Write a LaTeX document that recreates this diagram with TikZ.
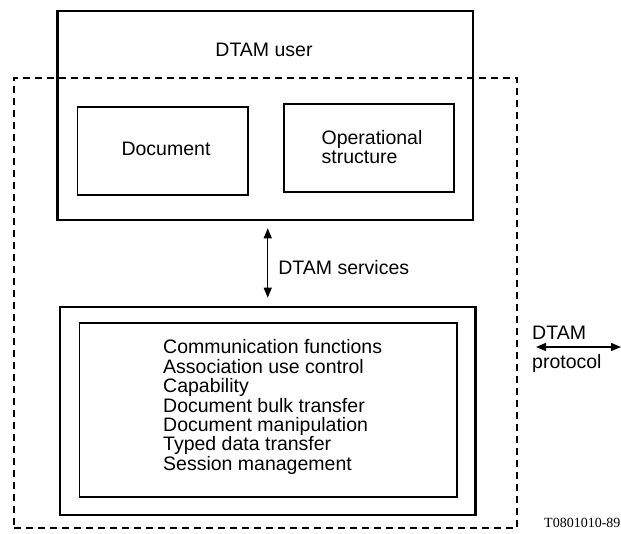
\documentclass[tikz,border=0pt]{standalone}
\usepackage{fontspec}
\setmainfont{Liberation Sans}
\newfontfamily\serifsmall{Liberation Serif}
\usetikzlibrary{arrows.meta,calc}
\begin{document}
\begin{tikzpicture}[x=1pt,y=-1pt,
  thickbox/.style={draw, line width=2.6pt, inner sep=0pt},
  thinbox/.style={draw, line width=1.3pt, inner sep=0pt},
  dashbox/.style={draw, line width=1.3pt, dash pattern=on 7pt off 5pt, inner sep=0pt},
  lbl/.style={font=\fontsize{19.5}{19.4}\selectfont, inner sep=0pt},
  arr/.style={line width=1.3pt, {Triangle[length=10pt,width=8pt]}-{Triangle[length=10pt,width=8pt]}}
]
\useasboundingbox (0,0) rectangle (621,533);
% dashed DTAM boundary
\node[dashbox, minimum width=503pt, minimum height=450pt] (dtam) at (265.5,303) {};
% DTAM user
\node[thickbox, minimum width=415.5pt, minimum height=209pt] (user) at (265.25,115.5) {};
\node[lbl] (usert) at (264,50) {DTAM user};
\node[thinbox, minimum width=170.5pt, minimum height=88pt] (doc) at (162.75,151) {};
\node[lbl] (doct) at (166,149) {Document};
\node[thinbox, minimum width=170pt, minimum height=88pt] (ops) at (369,148) {};
\node[lbl, align=left] (opst) at (372,147) {Operational\\structure};
% lower entity
\node[thickbox, minimum width=415.5pt, minimum height=208pt] (lower) at (267.75,411) {};
\node[thinbox, minimum width=377.5pt, minimum height=174pt] (inner) at (268.25,410) {};
\node[lbl, align=left, anchor=west] (funcs) at (163,407) {Communication functions\\Association use control\\Capability\\Document bulk transfer\\Document manipulation\\Typed data transfer\\Session management};
% services arrow
\draw[arr, shorten <=7pt, shorten >=8pt] (user.south -| lower.north) -- (lower.north)
  node[lbl, midway, anchor=west, xshift=10pt, yshift=-4pt] (svc) {DTAM services};
% protocol arrow
\coordinate (pl) at (536,347);
\coordinate (pr) at (621,347);
\draw[arr] (pl) -- (pr);
\node[lbl, anchor=west] (pdtam) at (532,333) {DTAM};
\node[lbl, anchor=west] (pprot) at (532,363) {protocol};
\node[font=\serifsmall\fontsize{14}{15}\selectfont, anchor=west, inner sep=0pt] (ref) at (544,523) {T0801010-89};
\end{tikzpicture}
\end{document}
